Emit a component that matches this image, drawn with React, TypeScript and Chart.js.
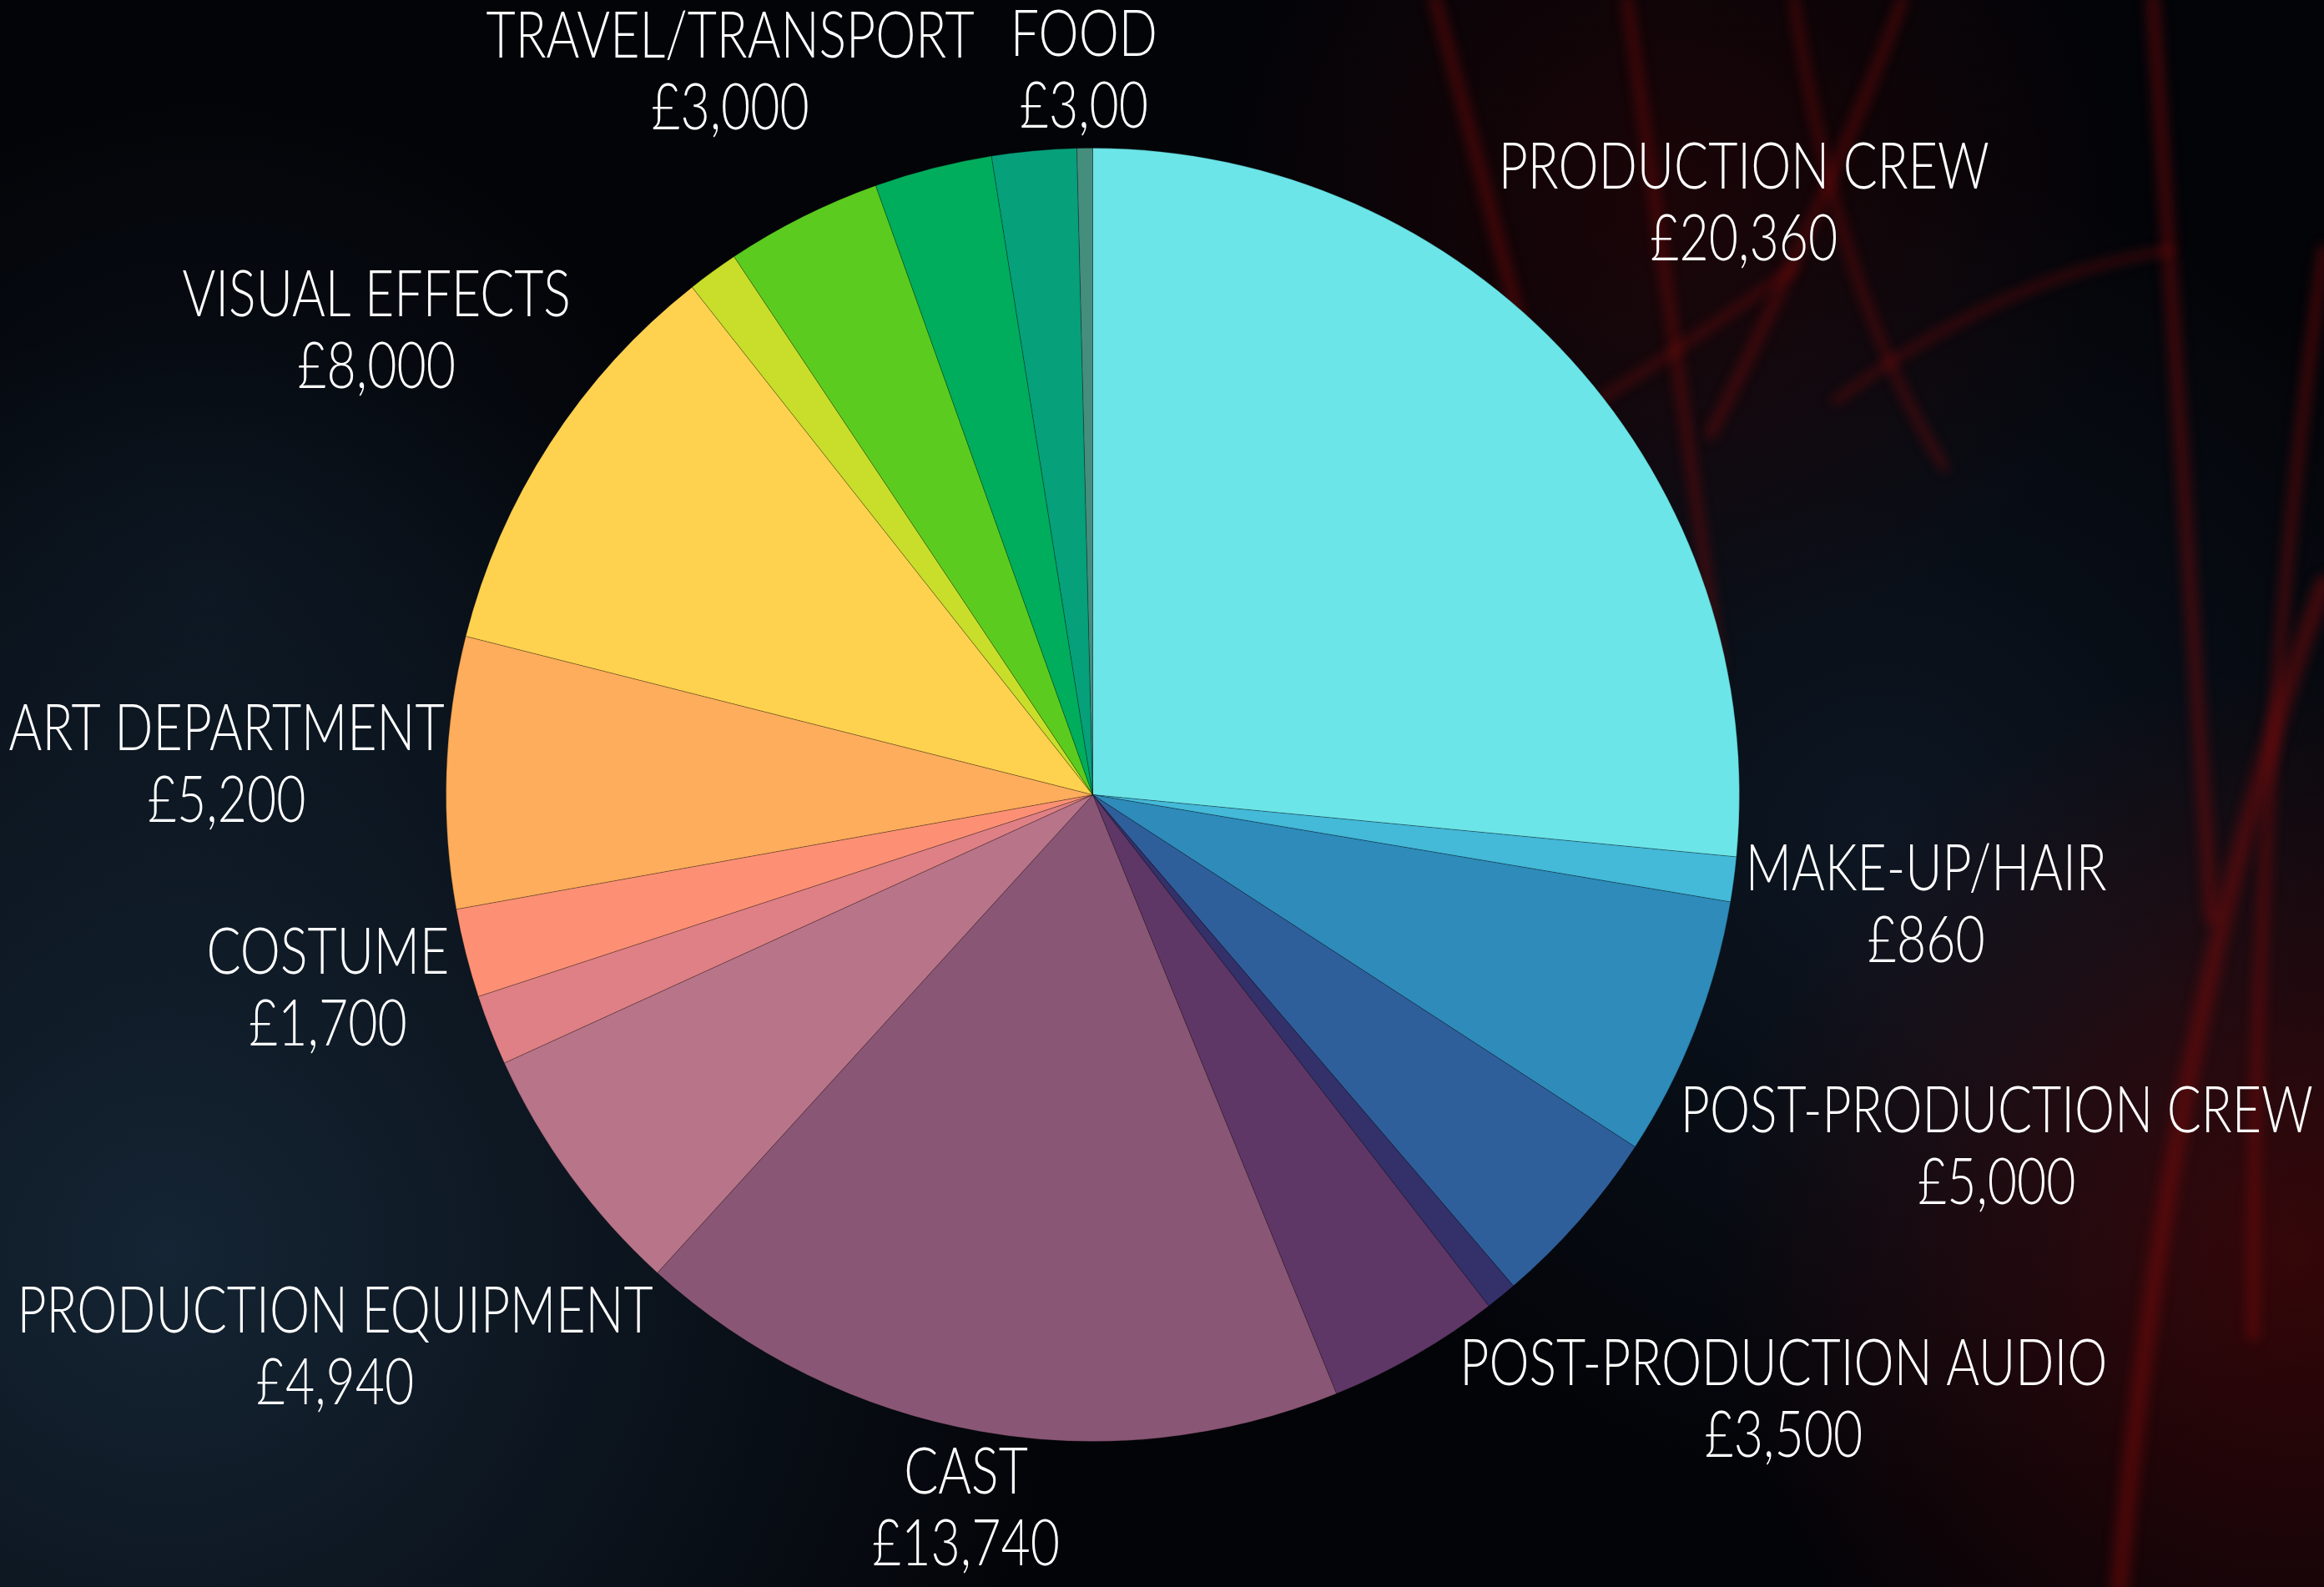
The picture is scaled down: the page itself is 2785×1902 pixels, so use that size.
import React, { useEffect, useRef } from "react";
import { Chart, registerables } from "chart.js";

Chart.register(...registerables);

// ---- data (clockwise from 12 o'clock) ----
const CATEGORIES = [
  "PRODUCTION CREW",
  "MAKE-UP/HAIR",
  "POST-PRODUCTION CREW",
  "POST-PRODUCTION AUDIO",
  "",
  "",
  "CAST",
  "PRODUCTION EQUIPMENT",
  "",
  "COSTUME",
  "ART DEPARTMENT",
  "VISUAL EFFECTS",
  "",
  "TRAVEL/TRANSPORT",
  "",
  "",
  "FOOD",
];
const VALUES = [20360, 860, 5000, 3500, 600, 3330, 13740, 4940, 1350, 1700, 5200, 8000, 980, 3000, 2260, 1620, 300];
const VALUE_LABELS = [
  "£20,360", "£860", "£5,000", "£3,500", "", "", "£13,740", "£4,940", "",
  "£1,700", "£5,200", "£8,000", "", "£3,000", "", "", "£3,00",
];

// ---- styling ----
const COLORS = [
  "#6ce5e8", "#44b9d8", "#2e8bba", "#2f5f9a", "#33306a", "#5e3766", "#8a5675",
  "#b87488", "#de8085", "#fd9074", "#fdad5b", "#fed14f", "#c8de2a", "#5bcc1f",
  "#00ad5c", "#06a07b", "#458e7d",
];
// distance of each label block centre from the pie centre, in radii
const LABEL_DIST = [1.36, 1.3, 1.5, 1.42, 0, 0, 1.12, 1.45, 0, 1.22, 1.34, 1.32, 0, 1.25, 0, 0, 1.12];

const W = 2785;
const H = 1902;

function haze(ctx: CanvasRenderingContext2D, x: number, y: number, r: number, c: string, a: number) {
  const g = ctx.createRadialGradient(x, y, 10, x, y, r);
  g.addColorStop(0, `rgba(${c},${a})`);
  g.addColorStop(1, `rgba(${c},0)`);
  ctx.fillStyle = g;
  ctx.fillRect(0, 0, W, H);
}

const backgroundPlugin = {
  id: "bgTexture",
  beforeDraw(chart: any) {
    const ctx = chart.ctx as CanvasRenderingContext2D;
    ctx.save();
    ctx.fillStyle = "#030408";
    ctx.fillRect(0, 0, W, H);
    haze(ctx, 200, 1500, 1100, "28,50,70", 0.7);
    haze(ctx, 250, 700, 600, "20,38,55", 0.4);
    haze(ctx, 2250, 1000, 800, "22,40,60", 0.5);
    haze(ctx, 2750, 1500, 700, "100,8,8", 0.5);
    haze(ctx, 2000, 250, 550, "70,6,6", 0.35);
    // soft red streaks
    const streaks: number[][] = [
      [1720, 0, 1800, 300, 1900, 700, 14],
      [1950, 0, 1990, 300, 2060, 800, 12],
      [2050, 520, 2200, 220, 2280, 0, 12],
      [2150, 0, 2200, 350, 2330, 560, 10],
      [2200, 480, 2400, 330, 2600, 300, 9],
      [2580, 0, 2610, 500, 2650, 1100, 16],
      [2785, 700, 2600, 1200, 2540, 1902, 22],
      [2785, 300, 2700, 900, 2700, 1600, 14],
      [1850, 520, 2000, 430, 2150, 320, 9],
    ];
    ctx.lineCap = "round";
    ctx.filter = "blur(7px)";
    for (const s of streaks) {
      ctx.strokeStyle = "rgba(130,10,10,0.45)";
      ctx.lineWidth = s[6];
      ctx.beginPath();
      ctx.moveTo(s[0], s[1]);
      ctx.quadraticCurveTo(s[2], s[3], s[4], s[5]);
      ctx.stroke();
    }
    ctx.filter = "none";
    ctx.restore();
  },
};

const labelPlugin = {
  id: "sliceLabels",
  afterDatasetsDraw(chart: any) {
    const ctx = chart.ctx as CanvasRenderingContext2D;
    const meta = chart.getDatasetMeta(0);
    ctx.save();
    ctx.fillStyle = "#ffffff";
    ctx.textAlign = "center";
    ctx.textBaseline = "middle";
    ctx.font = "300 76px Lato, 'Open Sans', sans-serif";
    meta.data.forEach((arc: any, i: number) => {
      const name = CATEGORIES[i];
      if (!name) return;
      const p = arc.getProps(["x", "y", "startAngle", "endAngle", "outerRadius"], true);
      const mid = (p.startAngle + p.endAngle) / 2;
      const d = p.outerRadius * LABEL_DIST[i];
      const cx = p.x + Math.cos(mid) * d;
      const cy = p.y + Math.sin(mid) * d;
      const lines = [name, VALUE_LABELS[i]];
      lines.forEach((t, k) => {
        ctx.save();
        ctx.translate(cx, cy + (k === 0 ? -42 : 44));
        ctx.scale(0.8, 1);
        ctx.fillText(t, 0, 0);
        ctx.restore();
      });
    });
    ctx.restore();
  },
};

export default function App() {
  const ref = useRef<HTMLCanvasElement | null>(null);
  useEffect(() => {
    document.body.style.margin = "0";
    document.body.style.background = "#030408";
    const canvas = ref.current!;
    const chart = new Chart(canvas, {
      type: "pie",
      data: {
        labels: CATEGORIES,
        datasets: [
          {
            data: VALUES,
            backgroundColor: COLORS,
            borderColor: "rgba(0,0,0,0.25)",
            borderWidth: 1,
          },
        ],
      },
      options: {
        responsive: false,
        animation: false,
        layout: { padding: { top: 177, bottom: 174, left: 534, right: 700 } },
        plugins: {
          legend: { display: false },
          tooltip: { enabled: false },
          title: { display: false },
        },
      },
      plugins: [backgroundPlugin, labelPlugin],
    });
    return () => chart.destroy();
  }, []);
  return (
    <div style={{ width: W, height: H }}>
      <canvas ref={ref} width={W} height={H} style={{ width: W, height: H, display: "block" }} />
    </div>
  );
}
